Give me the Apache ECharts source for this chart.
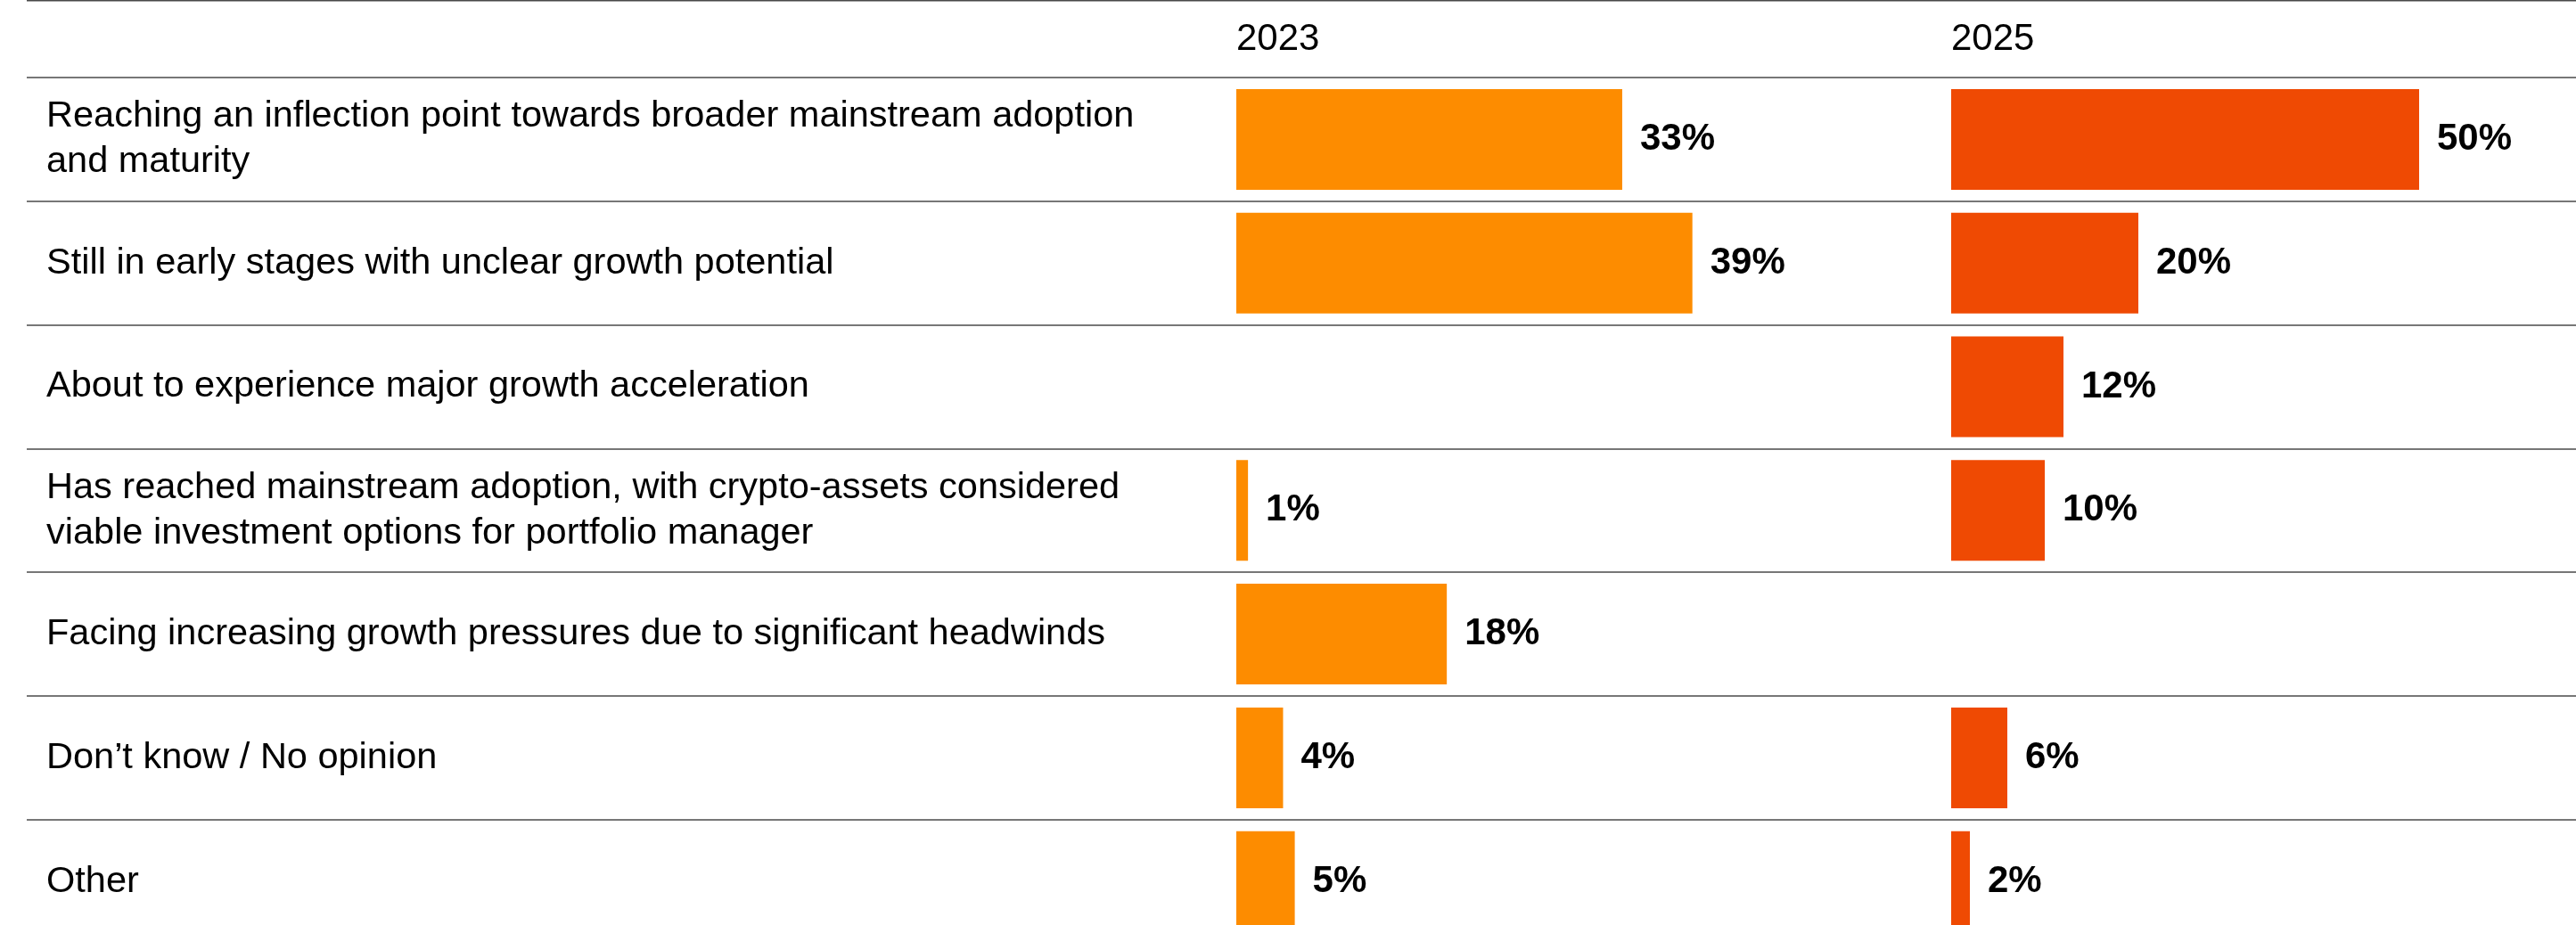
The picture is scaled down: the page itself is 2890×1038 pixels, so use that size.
<!DOCTYPE html>
<html>
<head>
<meta charset="utf-8">
<title>Crypto market maturity outlook, 2023 vs 2025</title>
<script src="https://cdn.jsdelivr.net/npm/echarts@6/dist/echarts.min.js"></script>
<style>
  html, body { margin: 0; padding: 0; background: #ffffff; }
  #chart { width: 2890px; height: 1038px; }
</style>
</head>
<body>
<div id="chart"></div>
<script>
// Answer options, in table order
const categories = [
  'Reaching an inflection point towards broader mainstream adoption\nand maturity',
  'Still in early stages with unclear growth potential',
  'About to experience major growth acceleration',
  'Has reached mainstream adoption, with crypto-assets considered\nviable investment options for portfolio manager',
  'Facing increasing growth pressures due to significant headwinds',
  'Don\u2019t know / No opinion',
  'Other'
];

// Share of respondents (%), null where the option was not asked that year
const values2023 = [33, 39, null, 1, 18, 4, 5];
const values2025 = [50, 20, 12, 10, null, 6, 2];

const years = ['2023', '2025'];

const FONT = "'Liberation Sans', Arial, Helvetica, sans-serif";
const COLOR_2023 = '#FD8C00';
const COLOR_2025 = '#EF4A03';
const RULE = '#4a4a4a';

// Table geometry
const tableLeft = 30;
const rowsTop = 87;
const rowHeight = 138.8;
const rowsHeight = rowHeight * categories.length;
const col2023Left = 1387;
const col2025Left = 2189;
const axisMax = 60;
const px2023 = 13.12;   // pixels per percentage point
const px2025 = 10.5;

const chart = echarts.init(document.getElementById('chart'), null, { renderer: 'canvas' });

function barSeries(name, data, color, gridIndex) {
  return {
    name: name,
    type: 'bar',
    xAxisIndex: gridIndex,
    yAxisIndex: gridIndex,
    data: data,
    barWidth: 113,
    itemStyle: { color: color },
    silent: true,
    label: {
      show: true,
      position: 'right',
      distance: 20,
      formatter: '{c}%',
      color: '#000000',
      fontFamily: FONT,
      fontWeight: 'bold',
      fontSize: 42
    }
  };
}

function hiddenCategoryAxis(gridIndex) {
  return {
    type: 'category',
    gridIndex: gridIndex,
    data: categories,
    inverse: true,
    show: false
  };
}

// The table runs past the bottom edge, so the grids keep their own size
function tableGrid(left, width) {
  const g = { top: rowsTop, height: rowsHeight, containLabel: false, outerBoundsMode: 'none' };
  g.left = left;
  if (width == null) { g.right = 0; } else { g.width = width; }
  return g;
}

const option = {
  animation: false,
  backgroundColor: '#ffffff',
  title: years.map((y, i) => ({
    text: y,
    left: i === 0 ? col2023Left : col2025Left,
    top: 23,
    padding: 0,
    textStyle: {
      fontFamily: FONT,
      fontWeight: 'normal',
      fontSize: 42,
      lineHeight: 42,
      color: '#000000'
    }
  })),
  graphic: [{
    type: 'line',
    silent: true,
    shape: { x1: tableLeft, y1: 0.75, x2: 2890, y2: 0.75 },
    style: { stroke: RULE, lineWidth: 1.5 }
  }],
  grid: [
    tableGrid(tableLeft, null),
    tableGrid(col2023Left, px2023 * axisMax),
    tableGrid(col2025Left, px2025 * axisMax)
  ],
  xAxis: [
    { type: 'value', gridIndex: 0, min: 0, max: axisMax, show: false },
    { type: 'value', gridIndex: 1, min: 0, max: axisMax, show: false },
    { type: 'value', gridIndex: 2, min: 0, max: axisMax, show: false }
  ],
  yAxis: [
    {
      type: 'category',
      gridIndex: 0,
      data: categories,
      inverse: true,
      axisLine: { show: false },
      axisTick: { show: false },
      axisLabel: {
        inside: true,
        margin: 22,
        interval: 0,
        align: 'left',
        color: '#000000',
        fontFamily: FONT,
        fontSize: 41.5,
        lineHeight: 51
      },
      splitLine: {
        show: true,
        showMinLine: true,
        showMaxLine: true,
        lineStyle: { color: RULE, width: 1.5 }
      }
    },
    hiddenCategoryAxis(1),
    hiddenCategoryAxis(2)
  ],
  series: [
    barSeries(years[0], values2023, COLOR_2023, 1),
    barSeries(years[1], values2025, COLOR_2025, 2)
  ]
};

chart.setOption(option);
</script>
</body>
</html>
